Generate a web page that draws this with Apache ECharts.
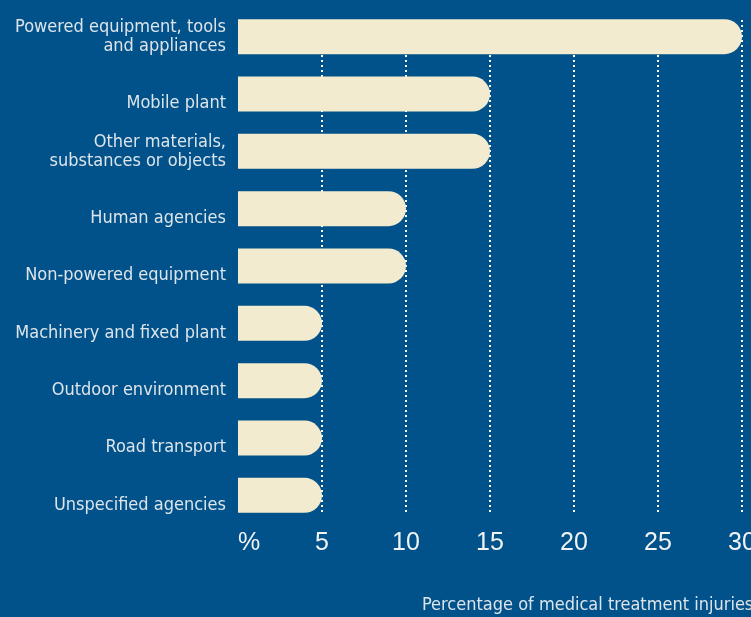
<!DOCTYPE html>
<html><head><meta charset="utf-8">
<script src="https://cdn.jsdelivr.net/npm/echarts@6/dist/echarts.min.js"></script>
<style>html,body{margin:0;padding:0;background:#01528a;}#c{width:751px;height:617px;}</style>
</head><body><div id="c"></div>
<script>
const categories = ["Powered equipment, tools\nand appliances","Mobile plant","Other materials,\nsubstances or objects","Human agencies","Non-powered equipment","Machinery and fixed plant","Outdoor environment","Road transport","Unspecified agencies"];
const values = [30,15,15,10,10,5,5,5,5];
const tickLabels = {0:"%",5:"5",10:"10",15:"15",20:"20",25:"25",30:"30"};
const axisTitle = "Percentage of medical treatment injuries";

const chart = echarts.init(document.getElementById('c'));
chart.setOption({
  backgroundColor:'#01528a',
  animation:false,
  title:{text:axisTitle,left:417,top:591,textStyle:{color:'#dde4ea',fontFamily:'DejaVu Sans Condensed, DejaVu Sans',fontSize:18,fontWeight:'normal'}},
  grid:[
    {left:238,right:9,top:8,height:516,containLabel:false,outerBoundsMode:'none'},
    {left:238,right:9,top:20,height:492,containLabel:false,outerBoundsMode:'none'}
  ],
  xAxis:[
    {gridIndex:0,type:'value',min:0,max:30,interval:5,axisLine:{show:false},axisTick:{show:false},axisLabel:{show:false},splitLine:{show:false}},
    {gridIndex:1,type:'value',min:0,max:30,interval:5,axisLine:{show:false},axisTick:{show:false},
      axisLabel:{color:'#f0f2f4',fontFamily:'Liberation Sans Narrow, Arial Narrow, sans-serif',fontSize:25,margin:19,alignMinLabel:'left',
        formatter:v=>tickLabels[v]},
      splitLine:{show:true,showMinLine:false,showMaxLine:true,lineStyle:{color:'#ffffff',width:2,type:[2,3]}}}
  ],
  yAxis:[
    {gridIndex:0,type:'category',data:categories,inverse:true,axisLine:{show:false},axisTick:{show:false},
      axisLabel:{color:'#dde4ea',fontFamily:'DejaVu Sans Condensed, DejaVu Sans',fontSize:18,margin:12,lineHeight:19,align:'right',
        formatter:s=>s.indexOf('\n')>=0?s:'\n'+s}},
    {gridIndex:1,type:'value',show:false}
  ],
  series:[
    {type:'bar',xAxisIndex:0,yAxisIndex:0,data:values,barWidth:35,z:5,
      itemStyle:{color:'#f2ebcf',borderRadius:[0,17.5,17.5,0]}}
  ]
});
</script></body></html>
